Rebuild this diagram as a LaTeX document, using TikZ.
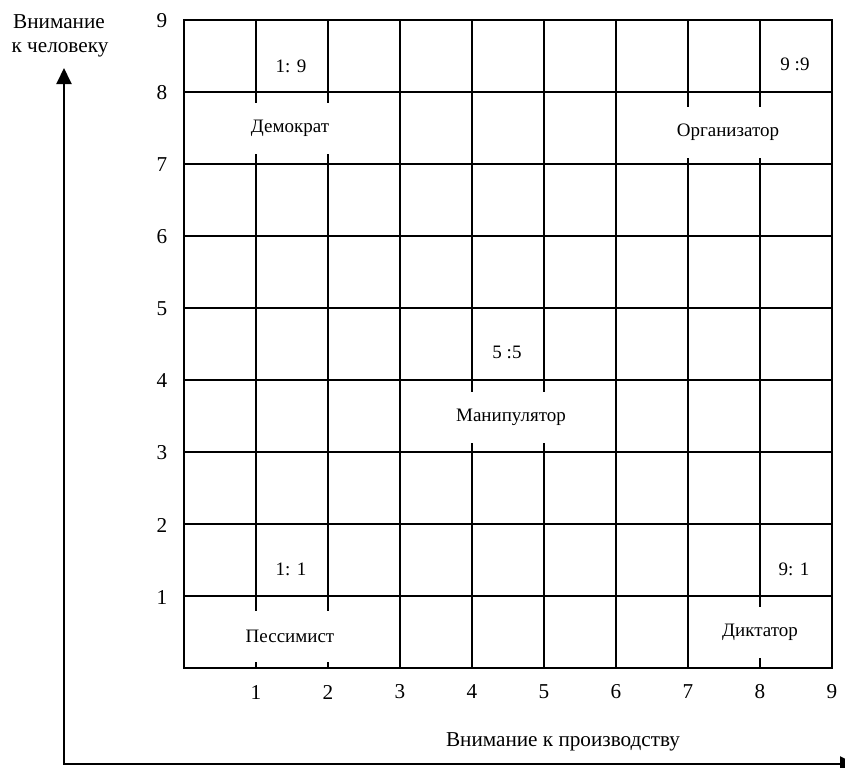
\documentclass[tikz,border=0pt]{standalone}
\usepackage{fontspec}
\setmainfont{Liberation Serif}
\usetikzlibrary{arrows.meta}
\begin{document}
\begin{tikzpicture}[x=0.5pt,y=-0.5pt,
  gridline/.style={line width=1pt},
  axisline/.style={line width=1pt,{Triangle[width=7.5pt,length=8pt]}-{Triangle[width=7.5pt,length=8pt]}},
  axtext/.style={font=\fontsize{10.6}{12}\selectfont, inner sep=0pt},
  celltext/.style={font=\fontsize{9.5}{11}\selectfont, inner sep=0pt},
  gapbox/.style={fill=white, inner sep=0pt, minimum height=25.5pt, font=\fontsize{9.5}{11}\selectfont}]
\useasboundingbox (0,0) rectangle (845,767);
% grid
\foreach \i in {1,...,8} {
  \draw[gridline] ({184+72*\i},20) -- ({184+72*\i},668);
  \draw[gridline] (184,{20+72*\i}) -- (832,{20+72*\i});
}
\draw[gridline] (184,20) rectangle (832,668);
% labels with gaps
\node[gapbox, minimum width=44pt] (dem) at (290,128.5) {Демократ};
\node[gapbox, minimum width=60pt] (org) at (728,132.5) {Организатор};
\node[gapbox, minimum width=60pt] (man) at (511,417.5) {Манипулятор};
\node[gapbox, minimum width=44pt] (pes) at (290,636) {Пессимист};
\node[gapbox] (dik) at (760,632) {Диктатор};
% ratio labels
\node[celltext] (r19) at (291,66) {1: 9};
\node[celltext] (r99) at (795,64) {9 :9};
\node[celltext] (r55) at (507,352) {5 :5};
\node[celltext] (r11) at (291,569) {1: 1};
\node[celltext] (r91) at (794,569) {9: 1};
% tick labels
\foreach \v in {1,...,9} {
  \node[axtext] (yl\v) at (162,{669-72*\v}) {\v};
  \node[axtext] (xl\v) at ({184+72*\v},692) {\v};
}
% axis titles
\node[axtext, anchor=base] (yt1) at (59,28) {Внимание};
\node[axtext, anchor=base] (yt2) at (60,52.5) {к человеку};
\node[axtext] (xt) at (563,742) {Внимание к производству};
% axes
\coordinate (ytip) at (64,68);
\coordinate (orig) at (64,764);
\coordinate (xtip) at (856,764);
\draw[axisline] (ytip) -- (orig) -- (xtip);
\end{tikzpicture}
\end{document}
